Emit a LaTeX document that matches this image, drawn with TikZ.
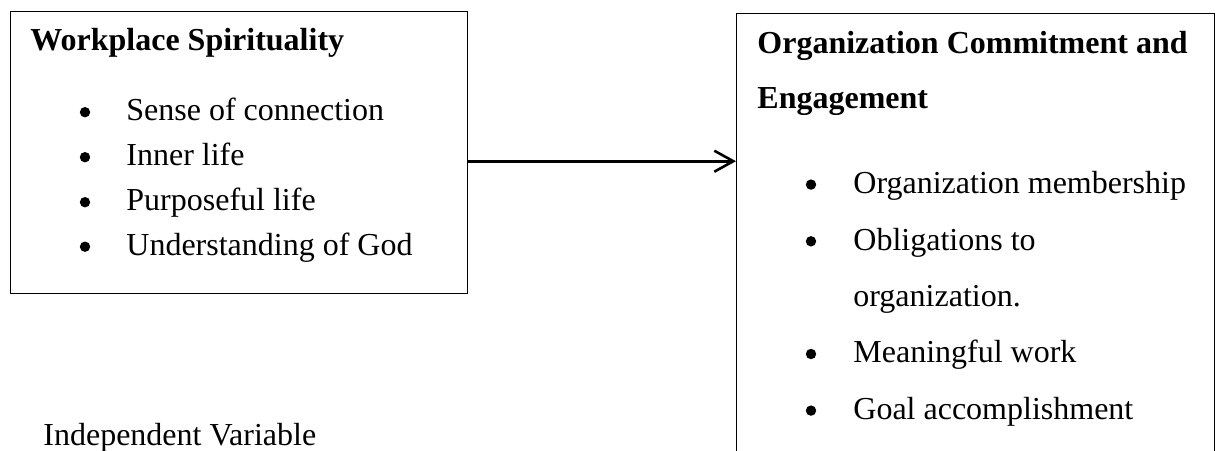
\documentclass[tikz,border=0pt]{standalone}
\usepackage{fontspec}
\setmainfont{Liberation Serif}
\usepackage{tikz}
\usetikzlibrary{arrows.meta,positioning}

\begin{document}
\begin{tikzpicture}[
    x=0.5pt, y=-0.5pt,
    panel/.style={draw=black, line width=0.5pt, anchor=north west, inner sep=0pt},
    head/.style={anchor=base west, inner sep=0pt, font=\fontsize{16}{19}\selectfont\bfseries},
    item/.style={anchor=base west, inner sep=0pt, font=\fontsize{16}{19}\selectfont},
    dot/.style={circle, fill=black, inner sep=0pt, minimum size=5.2pt},
    arr/.style={-{Straight Barb[length=9.5pt,width=10.5pt,line width=1.3pt]}, line width=1.3pt}
  ]
    \useasboundingbox (0,0) rectangle (1216,450);
    \clip (0,0) rectangle (1216,450);
    % boxes
    \node[panel, minimum width=228.5pt, minimum height=141pt] (ws) at (10,10.7) {};
    \node[panel, minimum width=239pt, minimum height=228.5pt] (oc) at (736,13) {};
    % left box text
    \node[head] (wshead) at (30,50) {Workplace Spirituality};
    \node[dot] (wsdot1) at (85,112.2) {};
    \node[item] (ws1) at (126,120.7) {Sense of connection};
    \node[dot] (wsdot2) at (85,157.2) {};
    \node[item] (ws2) at (126,165.7) {Inner life};
    \node[dot] (wsdot3) at (85,202.2) {};
    \node[item] (ws3) at (126,210.7) {Purposeful life};
    \node[dot] (wsdot4) at (85,246.7) {};
    \node[item] (ws4) at (126,255.2) {Understanding of God};
    % right box text
    \node[head] (ochead1) at (757,53.3) {Organization Commitment and};
    \node[head] (ochead2) at (757,108.3) {Engagement};
    \node[dot] (ocdot1) at (811,184.6) {};
    \node[item] (oc1) at (853,193.3) {Organization membership};
    \node[dot] (ocdot2) at (811,241.3) {};
    \node[item] (oc2) at (853,250) {Obligations to};
    \node[item] (oc2b) at (853,306.3) {organization.};
    \node[dot] (ocdot3) at (811,354) {};
    \node[item] (oc3) at (853,362.7) {Meaningful work};
    \node[dot] (ocdot4) at (811,410.6) {};
    \node[item] (oc4) at (853,419.3) {Goal accomplishment};
    % label
    \node[item] (indep) at (43,445) {Independent Variable};
    % link
    \coordinate (wsout) at ([yshift=-4.5pt]ws.east);
    \draw[arr] (wsout) -- (wsout -| oc.west);
  \end{tikzpicture}
\end{document}
